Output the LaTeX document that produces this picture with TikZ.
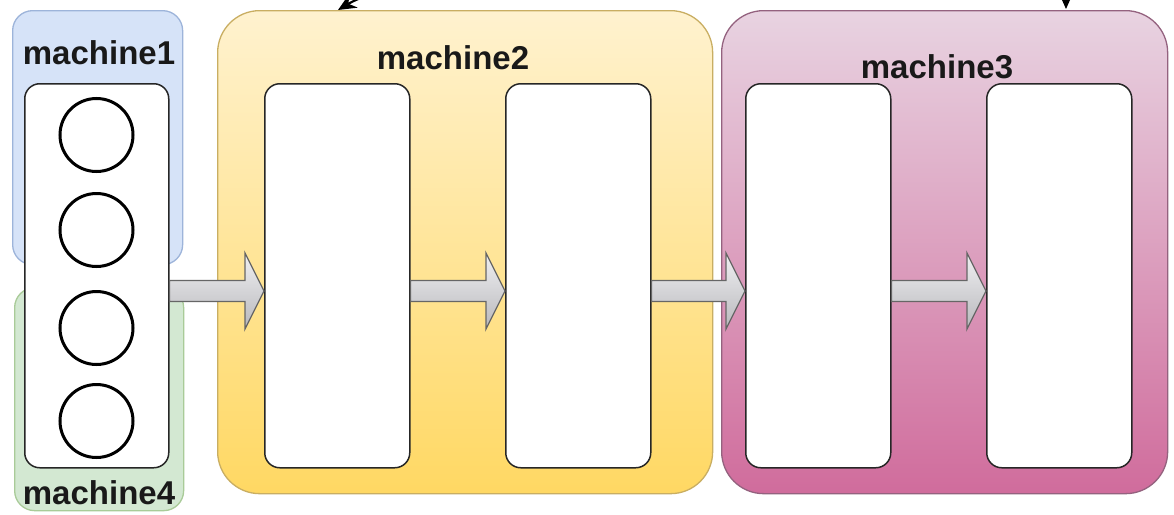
\documentclass[tikz,border=0pt]{standalone}
\usepackage{fontspec}
\setmainfont{Liberation Sans}
\usetikzlibrary{calc,arrows.meta}
\definecolor{blueF}{HTML}{D6E3F8}
\definecolor{blueS}{HTML}{9DB4DA}
\definecolor{greenF}{HTML}{D3E8D2}
\definecolor{greenS}{HTML}{A9CB98}
\definecolor{yelT}{HTML}{FFF2CF}
\definecolor{yelB}{HTML}{FFD863}
\definecolor{yelS}{HTML}{C9AE62}
\definecolor{pinkT}{HTML}{E8D3E1}
\definecolor{pinkB}{HTML}{D06C9C}
\definecolor{pinkS}{HTML}{94627F}
\definecolor{arrT}{HTML}{F0F0F2}
\definecolor{arrB}{HTML}{B8B8BC}
\definecolor{arrS}{HTML}{666666}
\tikzset{
  x=1pt, y=-1pt,
  group/.style={rectangle, rounded corners=#1, anchor=north west, inner sep=0pt, line width=1.3pt},
  inner/.style={rectangle, rounded corners=15pt, anchor=north west, inner sep=0pt,
    fill=white, draw=black!85, line width=1.5pt, minimum width=145pt, minimum height=384pt},
  slot/.style={circle, draw=black, line width=3pt, minimum size=73pt, inner sep=0pt, fill=white},
  lbl/.style={font=\fontsize{33}{39}\selectfont\bfseries, text=black!90, inner sep=0pt},
  flow/.style={draw=arrS, line width=1.3pt, top color=arrT, bottom color=arrB, line join=miter},
  conn/.style={draw=black, line width=2.2pt, {Stealth[length=18pt,width=16pt]}-{Stealth[length=17pt,width=15pt]}}
}
% grey block arrow between two nodes at height #3
\newcommand\flowarrow[3]{%
  \path[flow] ($(#1.east |- #3)+(0,-10.5)$) -- ($(#2.west |- #3)+(-19,-10.5)$)
    -- ($(#2.west |- #3)+(-19,-38)$) -- (#2.west |- #3)
    -- ($(#2.west |- #3)+(-19,38)$) -- ($(#2.west |- #3)+(-19,10.5)$)
    -- ($(#1.east |- #3)+(0,10.5)$) -- cycle;}
\begin{document}
\begin{tikzpicture}
\useasboundingbox (0,0) rectangle (1174,514);
\clip (0,0) rectangle (1174,514);
\fill[white] (0,0) rectangle (1174,514);

% machine groups
\node[group=20pt, fill=blueF, draw=blueS, minimum width=170pt, minimum height=254pt] (m1) at (12,10) {};
\node[group=20pt, fill=greenF, draw=greenS, minimum width=169pt, minimum height=223pt] (m4) at (14,287) {};
\node[group=42pt, top color=yelT, bottom color=yelB, draw=yelS, minimum width=495pt, minimum height=483pt] (m2) at (217,10) {};
\node[group=42pt, top color=pinkT, bottom color=pinkB, draw=pinkS, minimum width=446pt, minimum height=483pt] (m3) at (721,10) {};

\node[lbl] (l1) at (99,53) {machine1};
\node[lbl] (l4) at (99,493) {machine4};
\node[lbl] (l2) at (453,58) {machine2};
\node[lbl] (l3) at (937,67) {machine3};

% stage boxes
\node[inner, minimum width=144pt, minimum height=384pt] (s0) at (24,83) {};
\node[inner] (s1) at (264,83) {};
\node[inner] (s2) at (505,83) {};
\node[inner] (s3) at (745,83) {};
\node[inner] (s4) at (986,83) {};

% slots in the first stage
\node[slot] (c1) at (96.5,135) {};
\node[slot] (c2) at (96.5,230) {};
\node[slot] (c3) at (96.5,328) {};
\node[slot] (c4) at (96.5,421) {};

% data flow
\coordinate (fy) at (0,291);
\flowarrow{s0}{s1}{fy}
\flowarrow{s1}{s2}{fy}
\flowarrow{s2}{s3}{fy}
\flowarrow{s3}{s4}{fy}

% feedback link over the top
\coordinate (t2) at (338,10);
\coordinate (t3) at (1066,9);
\draw[conn] (t2) .. controls (430,-45) and (1066,-120) .. (t3);
\end{tikzpicture}
\end{document}
